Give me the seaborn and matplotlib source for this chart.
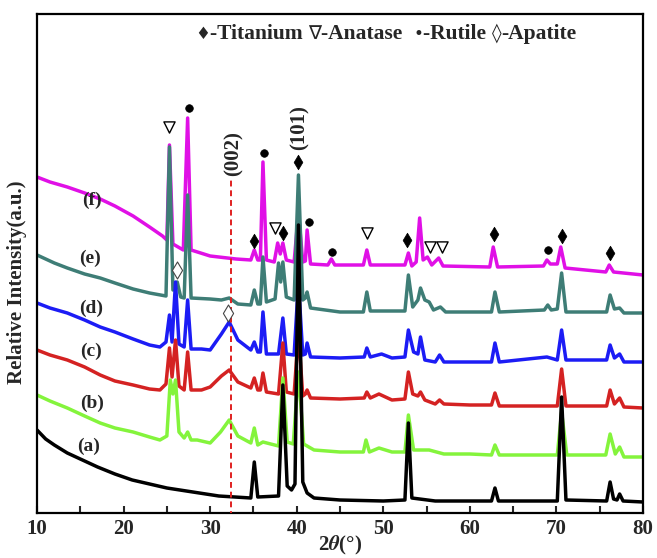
import matplotlib
matplotlib.use('Agg')
import matplotlib.pyplot as plt
import seaborn as sns
import pandas as pd
from matplotlib.ticker import MultipleLocator

# ---- data (2theta, relative intensity in a.u.) ----
a_x = [10, 11, 12, 13.5, 15, 17, 19, 21, 23, 25, 28, 31, 34.7, 35.1, 35.5, 37.9, 38.4, 38.9, 39.4, 39.8,
       40.2, 40.7, 41.2, 42, 45, 50, 52.5, 52.9, 53.3, 56, 62.5, 62.9, 63.3, 70.1, 70.6, 71.1, 75.8, 76.2, 76.6, 77.0,
       77.3, 77.7, 80]
a_y = [82, 73, 67, 59, 53, 45, 38, 32, 28, 24, 20, 16, 14, 50, 15, 16, 127, 26, 22, 28,
       287, 30, 19, 14, 12, 11, 12, 89, 14, 11, 11, 24, 11, 11, 115, 12, 11, 30, 13, 12,
       18, 11, 10]

b_x = [10, 11.5, 13.5, 15.5, 17.3, 19, 21.1, 23, 24.2, 25.0, 25.4, 25.7, 26.0, 26.4, 27.0, 27.4, 27.8, 28.5, 30, 31.2,
       32.2, 33.2, 34.7, 35.1, 35.5, 36.1, 37.9, 38.4, 38.9, 39.6, 40.2, 40.8, 41.2, 42, 45, 47.7, 48.0, 48.4, 49.5, 51,
       52.5, 52.9, 53.5, 55.3, 57, 60, 62.5, 62.9, 63.4, 70.1, 70.6, 71.2, 75.7, 76.2, 76.8, 77.3, 77.8, 80]
b_y = [117, 111, 104, 96, 89, 84, 80, 75, 72, 76, 132, 118, 132, 80, 74, 80, 72, 72, 69, 80,
       92, 76, 69, 84, 67, 70, 66, 134, 70, 68, 140, 68, 66, 62, 60, 60, 72, 60, 64, 60,
       60, 97, 62, 62, 58, 58, 57, 67, 57, 57, 100, 57, 57, 78, 58, 65, 55, 55]

c_x = [10, 11.5, 13.5, 15.5, 17.3, 19, 21.1, 23, 24.2, 24.9, 25.3, 25.6, 26.0, 26.4, 27.0, 27.4, 27.8, 29, 30, 31.3,
       32.2, 33.2, 34.7, 35.1, 35.5, 35.8, 36.1, 36.5, 37.9, 38.4, 38.8, 39.7, 40.2, 40.7, 41.0, 41.2, 41.6, 45, 47.8, 48.1,
       48.5, 49.5, 51, 52.5, 52.9, 53.4, 54.0, 54.3, 54.8, 56.0, 56.5, 57.0, 60, 62.5, 62.9, 63.4, 70.1, 70.6, 71.1, 75.8,
       76.2, 76.7, 77.3, 77.8, 80]
c_y = [162, 157, 152, 145, 137, 131, 127, 123, 122, 128, 164, 135, 172, 126, 122, 160, 122, 122, 125, 136,
       142, 130, 124, 134, 122, 122, 139, 120, 118, 169, 120, 118, 180, 116, 118, 122, 114, 113, 114, 120,
       114, 118, 112, 113, 140, 118, 116, 120, 112, 108, 112, 108, 107, 107, 119, 106, 106, 143, 106, 106,
       122, 108, 114, 105, 104]

d_x = [10, 11.5, 13.5, 15.5, 17.3, 19, 21.1, 23, 24.2, 24.9, 25.3, 25.6, 26.0, 26.4, 27.0, 27.4, 27.8, 29, 30, 31.3,
       32.2, 33.2, 34.7, 35.1, 35.5, 35.8, 36.1, 36.5, 37.9, 38.4, 38.8, 39.7, 40.2, 40.7, 41.0, 41.2, 41.6, 45, 47.8, 48.1,
       48.5, 49.8, 51, 52.5, 52.9, 53.5, 54.0, 54.3, 54.8, 56.0, 56.5, 57.0, 60, 62.5, 62.9, 63.4, 68.9, 70.1, 70.6, 71.1,
       75.8, 76.2, 76.7, 77.3, 77.8, 80]
d_y = [209, 204, 199, 192, 185, 180, 173, 167, 165, 170, 197, 170, 230, 168, 165, 212, 163, 163, 162, 178,
       190, 172, 162, 170, 160, 160, 200, 158, 158, 194, 158, 157, 230, 157, 158, 169, 155, 154, 155, 164,
       155, 158, 154, 155, 182, 160, 158, 175, 152, 150, 157, 150, 150, 150, 169, 150, 155, 152, 182, 152,
       152, 167, 154, 158, 150, 150]

e_x = [10, 11, 12, 13.5, 15.5, 17.3, 19, 21.1, 23, 24.9, 25.3, 25.7, 26.2, 26.6, 27.0, 27.4, 27.8, 30, 31.3, 32.2,
       33.2, 34.7, 35.1, 35.5, 35.8, 36.1, 36.5, 37.5, 37.9, 38.15, 38.4, 38.8, 39.7, 40.2, 40.7, 41.0, 41.2, 41.6, 45, 47.7,
       48.1, 48.5, 52.5, 52.9, 53.4, 54.0, 54.3, 54.8, 55.3, 55.8, 56.6, 57.2, 60, 62.5, 62.9, 63.4, 68.6, 69.0, 69.4, 70.1,
       70.6, 71.1, 75.8, 76.2, 76.7, 77.3, 77.8, 80]
e_y = [257, 253, 249, 244, 238, 234, 229, 223, 219, 216, 365, 222, 230, 215, 214, 317, 214, 213, 212, 214,
       208, 207, 222, 208, 208, 255, 210, 213, 249, 230, 250, 215, 212, 337, 212, 214, 220, 204, 200, 200,
       220, 201, 201, 237, 205, 212, 224, 212, 210, 202, 205, 200, 200, 200, 220, 200, 202, 207, 202, 203,
       239, 200, 200, 217, 203, 204, 199, 199]

f_x = [10, 11.5, 13.5, 15.5, 17.3, 19, 21.1, 23, 24.5, 25.0, 25.3, 25.7, 26.9, 27.4, 27.8, 30, 33, 34.7, 35.1, 35.5,
       35.8, 36.1, 36.5, 37.4, 37.8, 38.1, 38.4, 38.8, 39.7, 40.2, 40.7, 41.0, 41.2, 41.6, 43.6, 44.0, 44.4, 47.7, 48.1, 48.5,
       52.5, 52.9, 53.3, 53.8, 54.2, 54.6, 55.1, 55.6, 56.4, 56.9, 62.3, 62.7, 63.2, 68.5, 68.9, 69.3, 70.1, 70.5, 71.0, 75.7,
       76.1, 76.6, 80]
f_y = [335, 330, 325, 319, 313, 306, 296, 285, 276, 272, 367, 268, 262, 394, 262, 256, 253, 252, 262, 252,
       252, 350, 252, 250, 269, 258, 269, 252, 250, 300, 250, 251, 282, 248, 247, 253, 247, 247, 262, 247,
       247, 259, 246, 250, 294, 252, 255, 247, 254, 246, 245, 265, 245, 246, 252, 248, 248, 265, 244, 240,
       247, 240, 237]

curve_names = ['(a)', '(b)', '(c)', '(d)', '(e)', '(f)']
label_x = [16.0, 16.4, 16.2, 16.3, 16.1, 16.35]
label_y = [66, 109, 161, 204, 254, 312]

titanium_x = [35.06, 38.4, 40.14, 52.7, 62.8, 70.6, 76.2]
titanium_y = [271, 279, 350, 272, 278, 276, 259]
anatase_x = [25.24, 37.5, 48.1, 55.4, 56.8]
anatase_y = [385, 284, 279, 265, 265]
rutile_x = [27.55, 36.2, 41.4, 44.06, 69.0]
rutile_y = [404, 359, 290, 260, 262]
apatite_x = [26.2, 32.05]
apatite_y = [242, 199]

plane_labels = ['(002)', '(101)']
plane_label_x = [32.75, 40.35]
plane_label_y = [358, 384]
ref_line_x = 32.4
ref_line_top = 332

legend_symbols = ['\u2666', '\u2207', '\u2022', '\u25ca']
legend_symbol_sizes = [12, 14, 12, 14]
legend_words = ['-Titanium ', '-Anatase  ', '-Rutile ', '-Apatite']

# ---- plotting ----
sns.set_theme(style='ticks')
plt.rcParams['font.family'] = ['Liberation Serif', 'DejaVu Serif', 'DejaVu Sans']
plt.rcParams['font.weight'] = 'bold'
plt.rcParams['mathtext.fontset'] = 'stix'

fig = plt.figure(figsize=(6.57, 5.58), dpi=100)
ax = fig.add_axes([37 / 657, 45 / 558, 606 / 657, 499 / 558])

series = [(f_x, f_y, '#e010e6'), (e_x, e_y, '#3e7d76'), (d_x, d_y, '#1c1cf5'),
          (c_x, c_y, '#d42222'), (b_x, b_y, '#84f43c'), (a_x, a_y, '#000000')]
for xs, ys, col in series:
    df = pd.DataFrame({'x': xs, 'y': ys})
    sns.lineplot(data=df, x='x', y='y', ax=ax, color=col, lw=2.5, sort=False,
                 estimator=None, legend=False)

ax.plot([ref_line_x, ref_line_x], [-5, ref_line_top], color='#e02020', ls=(0, (3, 2)), lw=1.4, zorder=5)

for name, lx, ly in zip(curve_names, label_x, label_y):
    ax.text(lx, ly, name, ha='center', va='center', fontsize=14, fontweight='bold')

# phase markers
sns.scatterplot(x=titanium_x, y=titanium_y, ax=ax, marker='d', s=55, color='black', edgecolor='black', linewidth=0.5, zorder=6)
sns.scatterplot(x=anatase_x, y=anatase_y, ax=ax, marker='v', s=65, color='white', edgecolor='black', linewidth=1.0, zorder=6)
sns.scatterplot(x=rutile_x, y=rutile_y, ax=ax, marker='o', s=30, color='black', edgecolor='black', linewidth=0.5, zorder=6)
sns.scatterplot(x=apatite_x, y=apatite_y, ax=ax, marker='d', s=75, color='white', edgecolor='#444444', linewidth=0.8, zorder=6)

for lab, px, py in zip(plane_labels, plane_label_x, plane_label_y):
    ax.text(px, py, lab, rotation=90, ha='center', va='center', fontsize=15, fontweight='bold')

ax.set_xlim(10, 80)
ax.set_ylim(-1, 498)
ax.set_yticks([])
ax.xaxis.set_major_locator(MultipleLocator(10))
ax.xaxis.set_minor_locator(MultipleLocator(5))
ax.tick_params(axis='x', which='both', direction='in', length=5, width=1.5, top=False, pad=4)
ax.tick_params(axis='x', which='major', labelsize=15)
for lab in ax.get_xticklabels():
    lab.set_fontweight('bold')
for sp in ax.spines.values():
    sp.set_visible(True)
    sp.set_linewidth(1.6)
    sp.set_color('black')

ax.set_xlabel('2$\\mathit{\\theta}$(\u00b0)', fontsize=15, fontweight='bold')
ax.xaxis.set_label_coords(0.5, -(534 - 513) / 499)
ax.set_ylabel('Relative Intensity(a.u.)', fontsize=15, fontweight='bold')
ax.yaxis.set_label_coords(-(37 - 17) / 606, (513 - 282) / 499)
ax.yaxis.label.set_va('center')

# phase legend line at the top: symbols in DejaVu Sans, words in bold serif
fig.canvas.draw()
renderer = fig.canvas.get_renderer()
x_disp, y_disp = ax.transData.transform((28.3, 473))
for sym, sfs, word in zip(legend_symbols, legend_symbol_sizes, legend_words):
    for s, fam, fs, wt in ((sym, 'DejaVu Sans', sfs, 'normal'), (word, 'Liberation Serif', 15.5, 'bold')):
        t = fig.text(x_disp / fig.dpi / 6.57, y_disp / fig.dpi / 5.58, s, family=fam, fontsize=fs,
                     fontweight=wt, ha='left', va='baseline')
        bb = t.get_window_extent(renderer)
        x_disp = bb.x1

fig.savefig('out.png', dpi=100)
